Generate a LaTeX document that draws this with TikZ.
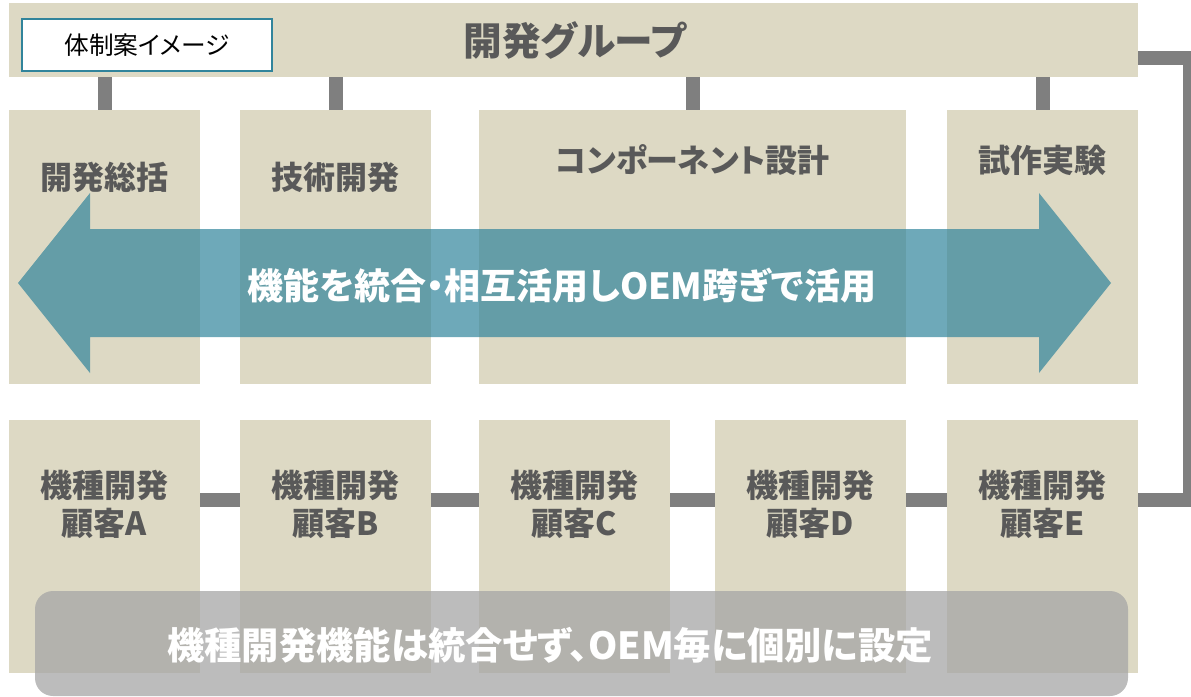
\documentclass[tikz,border=0pt]{standalone}
\usepackage{fontspec}
\setmainfont{Noto Sans CJK JP}[RawFeature=+palt]

\definecolor{tan}{HTML}{DDD9C4}
\definecolor{wire}{HTML}{7F7F7F}
\definecolor{ink}{HTML}{595959}
\definecolor{teal}{HTML}{31849B}
\definecolor{veil}{HTML}{A6A6A6}

\begin{document}
\begin{tikzpicture}[
  x=0.75pt, y=-0.75pt,
  line join=miter,
  unit/.style={fill=tan, inner sep=0pt},
  link/.style={draw=wire, line width=10.5pt},
  head/.style={text=ink, font=\bfseries\fontsize{24}{28.5}\selectfont, align=center},
  big/.style={text=white, font=\bfseries\fontsize{27}{31}\selectfont},
]
\useasboundingbox (0,0) rectangle (1191,696);

% ── the group bar ─────────────────────────────────────────────────────────
\node[unit, minimum width=1129*0.75pt, minimum height=74*0.75pt] (grp) at (573.5,40) {};
\node[text=ink, font=\bfseries\fontsize{29}{33}\selectfont] (grpT) at (575,40) {開発グループ};
\node[fill=white, draw=teal, line width=1.2pt, minimum width=250*0.75pt,
      minimum height=52*0.75pt, font=\fontsize{18.5}{21}\selectfont] (tag) at (147,45) {体制案イメージ};

% ── the shared functions ──────────────────────────────────────────────────
\foreach \n/\x/\w in {gen/104.5/191, tech/335.5/191, comp/692.5/427, proto/1042.5/191}
  { \node[unit, minimum width=\w*0.75pt, minimum height=274*0.75pt] (\n) at (\x,247) {}; }
\node[head] (genT)   at (104.5,177)  {開発総括};
\node[head] (techT)  at (335.5,177)  {技術開発};
\node[head] (compT)  at (692.5,160)  {コンポーネント設計};
\node[head] (protoT) at (1042.5,160) {試作実験};
\foreach \n in {gen, tech, comp, proto}
  { \draw[link] (\n.north) -- (\n.north |- grp.south); }

% ── the customer lines ────────────────────────────────────────────────────
\coordinate (rail) at (0,500);
\coordinate (bend) at (1190,57.5);
\foreach \n/\x/\c in {ka/104.5/A, kb/335.5/B, kc/574.5/C, kd/810.5/D, ke/1042.5/E} {
  \node[unit, minimum width=191*0.75pt, minimum height=253*0.75pt] (\n) at (\x,546.5) {};
  \node[head] (\n T) at (\x,504) {機種開発\\顧客\c};
}
\foreach \a/\b in {ka/kb, kb/kc, kc/kd, kd/ke}
  { \draw[link] (\a.east |- rail) -- (\b.west |- rail); }
\draw[link] (grp.east |- bend) -- (bend) |- (ke.east |- rail);

% ── the arrow across the functions ────────────────────────────────────────
\fill[teal, fill opacity=0.7]
  (18,283) -- (90,193) -- (90,229) -- (1039,229) -- (1039,193) -- (1111,283)
  -- (1039,373) -- (1039,337) -- (90,337) -- (90,373) -- cycle;
\node[big] (share) at (562,286) {機能を統合・相互活用しOEM跨ぎで活用};

% ── the note over the customers ───────────────────────────────────────────
\node[fill=veil, fill opacity=0.75, rounded corners=13.5pt, minimum width=1093*0.75pt,
      minimum height=105*0.75pt] (note) at (581.5,643.5) {};
\node[big, font=\bfseries\fontsize{28}{32}\selectfont] (noteT) at (550,645) {機種開発機能は統合せず、OEM毎に個別に設定};

\end{tikzpicture}
\end{document}
